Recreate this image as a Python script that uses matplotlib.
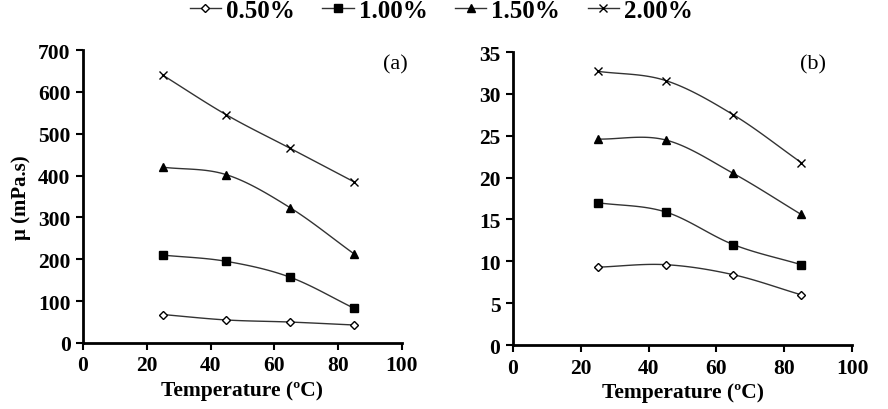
import numpy as np
import matplotlib
matplotlib.use("Agg")
import matplotlib.pyplot as plt
from matplotlib.lines import Line2D

temps = [25, 45, 65, 85]
labels = ["0.50%", "1.00%", "1.50%", "2.00%"]
markers = ["D", "s", "^", "x"]
fills = ["white", "black", "black", "black"]

# panel (a)
a_050 = [68, 55, 50, 43]
a_100 = [210, 195, 157, 83]
a_150 = [420, 402, 323, 213]
a_200 = [640, 545, 465, 385]
# panel (b)
b_050 = [9.3, 9.6, 8.4, 6.0]
b_100 = [17.0, 15.9, 12.0, 9.6]
b_150 = [24.6, 24.5, 20.5, 15.6]
b_200 = [32.7, 31.6, 27.5, 21.8]

plt.rcParams['font.family'] = ['Liberation Serif', 'DejaVu Serif']
plt.rcParams['font.weight'] = 'bold'


def smooth(x, y, n=30):
    x = np.asarray(x, float); y = np.asarray(y, float)
    px = np.concatenate([[2*x[0]-x[1]], x, [2*x[-1]-x[-2]]])
    py = np.concatenate([[2*y[0]-y[1]], y, [2*y[-1]-y[-2]]])
    xs, ys = [], []
    for i in range(1, len(px)-2):
        p0x, p1x, p2x, p3x = px[i-1], px[i], px[i+1], px[i+2]
        p0y, p1y, p2y, p3y = py[i-1], py[i], py[i+1], py[i+2]
        c1x = p1x + (p2x - p0x)/6; c1y = p1y + (p2y - p0y)/6
        c2x = p2x - (p3x - p1x)/6; c2y = p2y - (p3y - p1y)/6
        t = np.linspace(0, 1, n)
        bx = (1-t)**3*p1x + 3*(1-t)**2*t*c1x + 3*(1-t)*t**2*c2x + t**3*p2x
        by = (1-t)**3*p1y + 3*(1-t)**2*t*c1y + 3*(1-t)*t**2*c2y + t**3*p2y
        xs.append(bx); ys.append(by)
    return np.concatenate(xs), np.concatenate(ys)


fig = plt.figure(figsize=(8.88, 4.10), dpi=100)
axA = fig.add_axes([0.0935, 0.161, 0.359, 0.7146])
axB = fig.add_axes([0.5777, 0.156, 0.3818, 0.7146])

def draw(ax, series, ylim, yticks):
    for s, m, f in zip(series, markers, fills):
        sx, sy = smooth(temps, s)
        ax.plot(sx, sy, color='#333333', lw=1.0, zorder=2)
        ms = 6 if m != 'D' else 4.5
        ax.plot(temps, s, linestyle='none', marker=m, markersize=ms,
                markerfacecolor=f, markeredgecolor='black', markeredgewidth=1.0,
                zorder=3)
    ax.set_xlim(0, 100)
    ax.set_ylim(*ylim)
    ax.set_xticks([0, 20, 40, 60, 80, 100])
    ax.set_yticks(yticks)
    for sp in ['top', 'right']:
        ax.spines[sp].set_visible(False)
    for sp in ['left', 'bottom']:
        ax.spines[sp].set_linewidth(2)
    ax.tick_params(direction='out', length=5, width=1.5, labelsize=15.5, pad=4)
    for lab in ax.get_xticklabels() + ax.get_yticklabels():
        lab.set_fontweight('bold')
    ax.set_xlabel('Temperature (ºC)', fontsize=15.5, fontweight='bold', labelpad=3)

draw(axA, [a_050, a_100, a_150, a_200], (0, 700), list(range(0, 701, 100)))
draw(axB, [b_050, b_100, b_150, b_200], (0, 35), list(range(0, 36, 5)))
axA.set_ylabel('μ (mPa.s)', fontsize=15, fontweight='bold', labelpad=5)
axA.text(1.02, 0.952, '(a)', transform=axA.transAxes, ha='right', va='center',
         fontsize=16, fontweight='normal')
axB.text(0.885, 0.959, '(b)', transform=axB.transAxes, ha='center', va='center',
         fontsize=16, fontweight='normal')

handles = []
for lab, m, f in zip(labels, markers, fills):
    ms = 6 if m != 'D' else 4.5
    handles.append(Line2D([], [], color='#333333', lw=1.0, marker=m, markersize=ms,
                          markerfacecolor=f, markeredgecolor='black'))
fig.legend(handles, labels, loc='center', bbox_to_anchor=(0.497, 1 - 11/410), ncol=4,
           frameon=False, prop={'size': 18, 'weight': 'bold'}, handlelength=1.25,
           handletextpad=0.2, columnspacing=1.1, borderpad=0)

fig.savefig('out.png', dpi=100)
